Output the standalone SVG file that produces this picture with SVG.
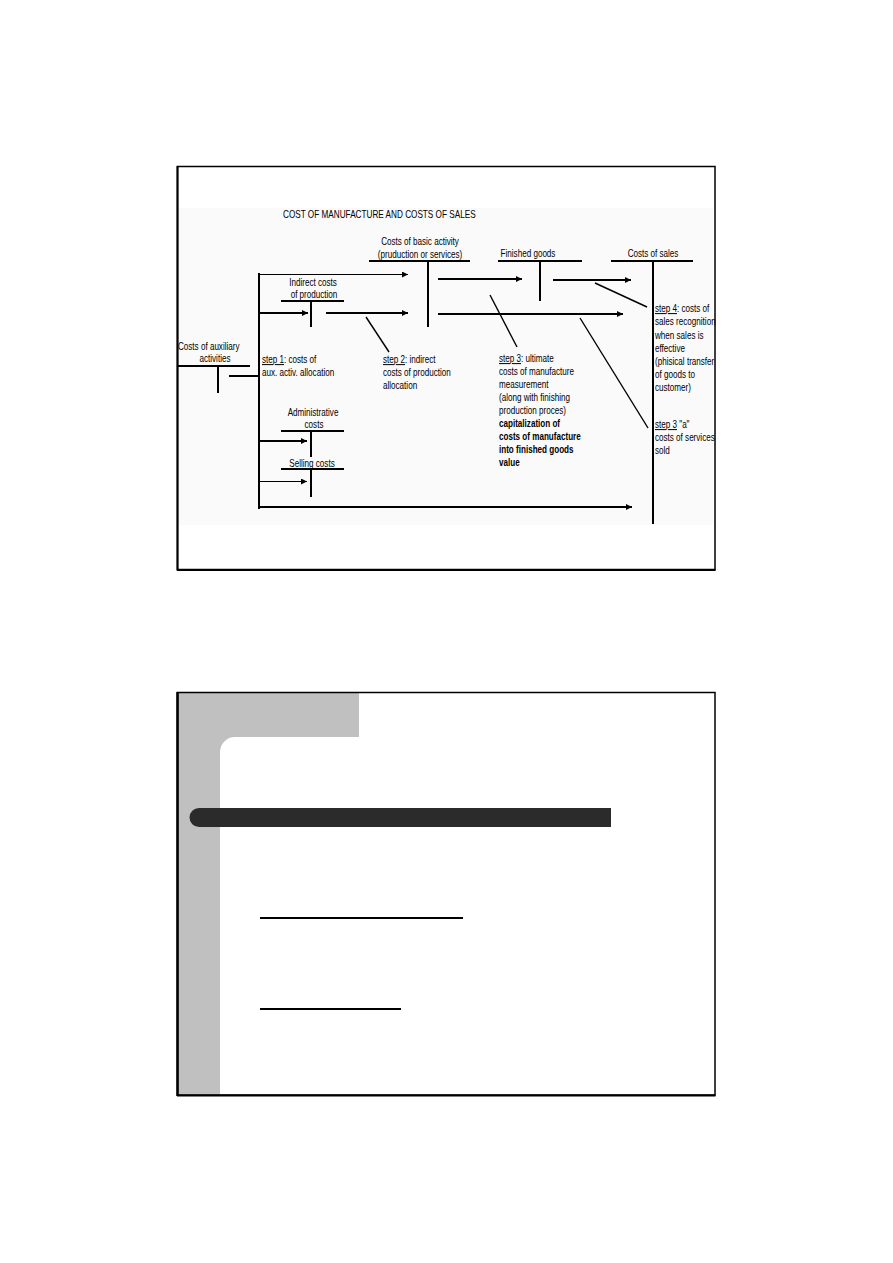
<svg xmlns="http://www.w3.org/2000/svg" width="893" height="1263" viewBox="0 0 893 1263">
<defs>
<marker id="ah" viewBox="0 0 10 10" refX="10" refY="5" markerWidth="3.2" markerHeight="3.2" markerUnits="strokeWidth" orient="auto">
<path d="M0 0 L10 5 L0 10 Z" fill="#000"/>
</marker>
<marker id="ahThin" viewBox="0 0 10 10" refX="10" refY="5" markerWidth="6" markerHeight="6" markerUnits="strokeWidth" orient="auto">
<path d="M0 0 L10 5 L0 10 Z" fill="#000"/>
</marker>
<style>
text{font-family:"Liberation Sans",Arial,sans-serif;font-size:10px;fill:#000;}
.m{text-anchor:middle;}
.b{font-weight:bold;}
.u{text-decoration:underline;}
.tb{stroke:#000;stroke-width:2;fill:none;}
.ar{stroke:#000;stroke-width:2;fill:none;marker-end:url(#ah);}
.art{stroke:#000;stroke-width:1;fill:none;marker-end:url(#ahThin);}
.dg{stroke:#000;stroke-width:1.4;fill:none;}
.frame{fill:none;stroke:#000;}
</style>
</defs>
<rect width="893" height="1263" fill="#fff"/>

<!-- Slide 1 -->
<g id="slide1">
<rect x="178" y="208" width="535" height="317" fill="#fafafa"/>
<rect class="frame" x="177.5" y="166.5" width="537.5" height="403" stroke-width="1.5"/>
<line x1="177.5" y1="166" x2="177.5" y2="570.5" stroke="#000" stroke-width="2"/>
<line x1="177" y1="570" x2="715.5" y2="570" stroke="#000" stroke-width="2"/>
</g>

<g id="title">
<text transform="translate(283 218) scale(0.82 1)">COST OF MANUFACTURE AND COSTS OF SALES</text>
</g>

<g id="node-basic">
<text class="m" transform="translate(420 245) scale(0.81 1)">Costs of basic activity</text>
<text class="m" transform="translate(420 258) scale(0.81 1)">(pruduction or services)</text>
<line class="tb" x1="369" y1="261" x2="470" y2="261"/>
<line class="tb" x1="428" y1="261" x2="428" y2="327"/>
</g>

<g id="node-finished">
<text class="m" transform="translate(528 257) scale(0.81 1)">Finished goods</text>
<line class="tb" x1="498" y1="261" x2="582" y2="261"/>
<line class="tb" x1="540" y1="261" x2="540" y2="301" stroke-width="1.5"/>
</g>

<g id="node-sales">
<text class="m" transform="translate(653 257) scale(0.81 1)">Costs of sales</text>
<line class="tb" x1="611" y1="261" x2="693" y2="261"/>
<line class="tb" x1="653" y1="261" x2="653" y2="524"/>
</g>

<g id="node-indirect">
<text class="m" transform="translate(313 286) scale(0.81 1)">Indirect costs</text>
<text class="m" transform="translate(314 298) scale(0.81 1)">of production</text>
<line class="tb" x1="281" y1="301" x2="344" y2="301"/>
<line class="tb" x1="311" y1="301" x2="311" y2="327"/>
</g>

<g id="node-aux">
<text transform="translate(178 350) scale(0.81 1)">Costs of auxiliary</text>
<text class="m" transform="translate(215 362) scale(0.81 1)">activities</text>
<line class="tb" x1="177" y1="366" x2="250" y2="366"/>
<line class="tb" x1="218" y1="366" x2="218" y2="393" stroke-width="1.5"/>
</g>

<g id="node-admin">
<text class="m" transform="translate(313 416) scale(0.81 1)">Administrative</text>
<text class="m" transform="translate(314 428) scale(0.81 1)">costs</text>
<line class="tb" x1="281" y1="431" x2="344" y2="431"/>
<line class="tb" x1="311" y1="431" x2="311" y2="457"/>
</g>

<g id="node-selling">
<text class="m" transform="translate(312 467) scale(0.81 1)">Selling costs</text>
<line class="tb" x1="281" y1="469" x2="344" y2="469"/>
<line class="tb" x1="311" y1="469" x2="311" y2="497"/>
</g>

<g id="label-step1">
<text transform="translate(262 363) scale(0.81 1)"><tspan class="u">step 1</tspan>: costs of</text>
<text transform="translate(262 376) scale(0.81 1)">aux. activ. allocation</text>
</g>

<g id="label-step2">
<text transform="translate(383 363) scale(0.81 1)"><tspan class="u">step 2</tspan>: indirect</text>
<text transform="translate(383 376) scale(0.81 1)">costs of production</text>
<text transform="translate(383 389) scale(0.81 1)">allocation</text>
</g>

<g id="label-step3">
<text transform="translate(499 362) scale(0.81 1)"><tspan class="u">step 3</tspan>: ultimate</text>
<text transform="translate(499 375) scale(0.81 1)">costs of manufacture</text>
<text transform="translate(499 388) scale(0.81 1)">measurement</text>
<text transform="translate(499 401) scale(0.81 1)">(along with finishing</text>
<text transform="translate(499 414) scale(0.81 1)">production proces)</text>
<text class="b" transform="translate(499 427) scale(0.81 1)">capitalization of</text>
<text class="b" transform="translate(499 440) scale(0.81 1)">costs of manufacture</text>
<text class="b" transform="translate(499 453) scale(0.81 1)">into finished goods</text>
<text class="b" transform="translate(499 466) scale(0.81 1)">value</text>
</g>

<g id="label-step4">
<text transform="translate(655 312) scale(0.81 1)"><tspan class="u">step 4</tspan>: costs of</text>
<text transform="translate(655 325) scale(0.81 1)">sales recognition</text>
<text transform="translate(655 339) scale(0.81 1)">when sales is</text>
<text transform="translate(655 352) scale(0.81 1)">effective</text>
<text transform="translate(655 365) scale(0.81 1)">(phisical transfer</text>
<text transform="translate(655 378) scale(0.81 1)">of goods to</text>
<text transform="translate(655 391) scale(0.81 1)">customer)</text>
</g>

<g id="label-step3a">
<text transform="translate(655 428) scale(0.81 1)"><tspan class="u">step 3</tspan> "a"</text>
<text transform="translate(655 441) scale(0.81 1)">costs of services</text>
<text transform="translate(655 454) scale(0.81 1)">sold</text>
</g>

<g id="connectors">
<line class="tb" x1="259" y1="273" x2="259" y2="509"/>
<line class="art" x1="259" y1="274.5" x2="408" y2="274.5"/>
<line class="ar" x1="259" y1="313" x2="308" y2="313"/>
<line class="ar" x1="326" y1="313" x2="408" y2="313"/>
<line class="ar" x1="438" y1="279" x2="522" y2="279"/>
<line class="ar" x1="438" y1="314" x2="623" y2="314"/>
<line class="ar" x1="553" y1="280" x2="631" y2="280"/>
<line class="tb" x1="229" y1="376" x2="259" y2="376"/>
<line class="ar" x1="259" y1="441" x2="307" y2="441"/>
<line class="art" x1="259" y1="481.5" x2="307" y2="481.5"/>
<line class="ar" x1="259" y1="507" x2="632" y2="507"/>
<line class="dg" x1="366" y1="317" x2="389" y2="352"/>
<line class="dg" x1="490" y1="295" x2="517" y2="347"/>
<line class="dg" x1="595" y1="283" x2="647" y2="307"/>
<line class="dg" x1="580" y1="318" x2="648" y2="428"/>
</g>

<!-- Slide 2 -->
<g id="slide2">
<path d="M178 693 H359 V737 H235 A15 15 0 0 0 220 752 V1094 H178 Z" fill="#c0c0c0"/>
<path d="M199 808 H611 V827 H199 A9.5 9.5 0 0 1 199 808 Z" fill="#2b2b2b"/>
<line x1="260" y1="918" x2="463" y2="918" stroke="#000" stroke-width="2"/>
<line x1="260" y1="1009" x2="401" y2="1009" stroke="#000" stroke-width="2"/>
<rect class="frame" x="177.5" y="692.5" width="537.5" height="402.5" stroke-width="1.5"/>
<line x1="177.5" y1="692" x2="177.5" y2="1096" stroke="#000" stroke-width="2.5"/>
<line x1="177" y1="1095.5" x2="715.5" y2="1095.5" stroke="#000" stroke-width="2"/>
</g>
</svg>
